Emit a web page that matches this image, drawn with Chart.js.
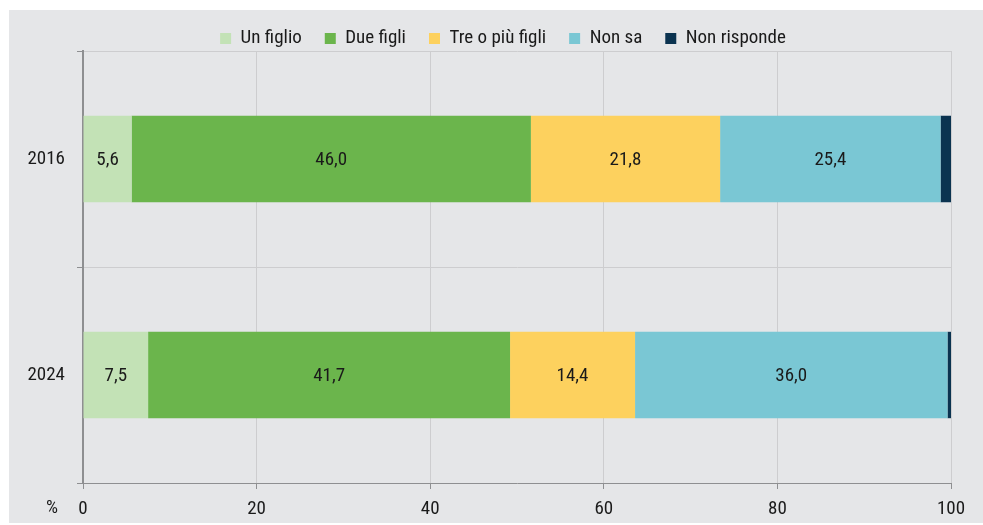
<!DOCTYPE html>
<html>
<head>
<meta charset="utf-8">
<script src="https://cdn.jsdelivr.net/npm/chart.js@4"></script>
<style>
  html, body { margin: 0; padding: 0; background: #fff; }
  #frame { position: absolute; left: 9px; top: 10px; width: 974px; height: 513px; background: #e5e6e8; }
</style>
</head>
<body>
<div id="frame"><canvas id="chart"></canvas></div>
<script>
const years = ["2016", "2024"];
const seriesNames = ["Un figlio", "Due figli", "Tre o più figli", "Non sa", "Non risponde"];
const unFiglio = [5.6, 7.5];
const dueFigli = [46.0, 41.7];
const treOPiuFigli = [21.8, 14.4];
const nonSa = [25.4, 36.0];
const nonRisponde = [1.2, 0.4];
const xTicks = [0, 20, 40, 60, 80, 100];
const colors = ["#c3e2b6", "#6bb54c", "#fdd15e", "#7ac7d4", "#0b3350"];

const fontFamily = "'Roboto Condensed', 'Liberation Sans Narrow', 'Liberation Sans', sans-serif";
const fontSize = 19;
const textColor = "#1a1a1a";
const gridColor = "#cdcdcf";
const axisColor = "#8e8f91";

// legend keeps a fixed height so the plot starts where the original does,
// and sits a little right of the canvas centre like the original
const legendHeight = {
  id: "legendHeight",
  beforeInit(chart) {
    const fit = chart.legend.fit;
    chart.legend.fit = function () {
      fit.call(this);
      this.height = 41;
    };
    const draw = chart.legend.draw;
    chart.legend.draw = function () {
      const ctx = this.ctx;
      ctx.save();
      ctx.translate(23, -4);
      draw.call(this);
      ctx.restore();
    };
  },
};

// value labels in the middle of each segment, italian decimal comma
const barLabels = {
  id: "barLabels",
  afterDatasetsDraw(chart) {
    const ctx = chart.ctx;
    ctx.save();
    ctx.font = fontSize + "px " + fontFamily;
    ctx.fillStyle = textColor;
    ctx.textAlign = "center";
    ctx.textBaseline = "middle";
    chart.data.datasets.forEach((ds, i) => {
      if (ds.label === "Non risponde") return;
      chart.getDatasetMeta(i).data.forEach((bar, j) => {
        const text = ds.data[j].toFixed(1).replace(".", ",");
        ctx.fillText(text, (bar.x + bar.base) / 2, bar.y + 1);
      });
    });
    ctx.restore();
  },
};

// "%" unit on the left of the x tick labels
const unitLabel = {
  id: "unitLabel",
  afterDraw(chart) {
    const ctx = chart.ctx;
    const x = chart.scales.x;
    ctx.save();
    ctx.font = fontSize + "px " + fontFamily;
    ctx.fillStyle = textColor;
    ctx.textAlign = "center";
    ctx.textBaseline = "top";
    ctx.fillText("%", chart.chartArea.left - 31, x.top + 6 + 10);
    ctx.restore();
  },
};

const seriesData = [unFiglio, dueFigli, treOPiuFigli, nonSa, nonRisponde];

const datasets = seriesNames.map((name, i) => ({
  label: name,
  data: seriesData[i],
  backgroundColor: colors[i],
  borderWidth: 0,
  categoryPercentage: 0.8,
  barPercentage: 0.5,
}));

new Chart(document.getElementById("chart"), {
  type: "bar",
  data: { labels: years, datasets },
  options: {
    indexAxis: "y",
    responsive: true,
    maintainAspectRatio: false,
    animation: false,
    layout: { padding: { right: 32 } },
    plugins: {
      legend: {
        position: "top",
        labels: {
          boxWidth: 11,
          boxHeight: 11,
          padding: 23,
          color: textColor,
          font: { family: fontFamily, size: fontSize },
        },
      },
      tooltip: { enabled: false },
    },
    scales: {
      x: {
        stacked: true,
        min: 0,
        max: 100,
        afterBuildTicks: (scale) => {
          scale.ticks = xTicks.map((v) => ({ value: v }));
        },
        afterFit: (scale) => {
          scale.height = 40;
        },
        grid: { color: gridColor, tickColor: axisColor, tickLength: 6 },
        border: { color: axisColor, width: 1 },
        ticks: {
          padding: 9,
          color: textColor,
          font: { family: fontFamily, size: fontSize },
        },
      },
      y: {
        stacked: true,
        afterFit: (scale) => {
          scale.width = 74;
        },
        grid: { offset: true, color: gridColor, tickColor: axisColor, tickLength: 6 },
        border: { color: axisColor, width: 2 },
        ticks: {
          padding: 12,
          color: textColor,
          font: { family: fontFamily, size: fontSize },
        },
      },
    },
  },
  plugins: [legendHeight, barLabels, unitLabel],
});
</script>
</body>
</html>
